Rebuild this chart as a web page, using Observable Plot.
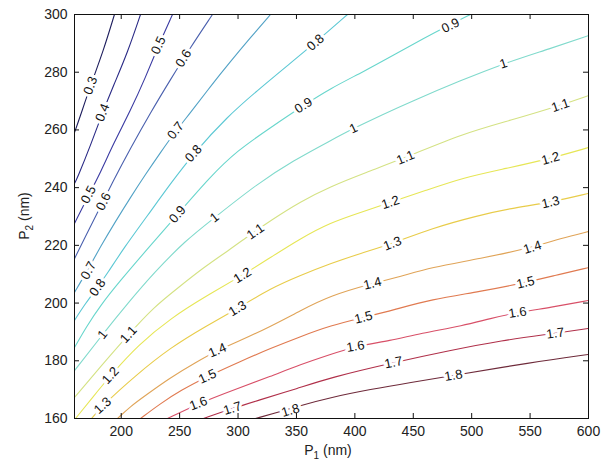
<!DOCTYPE html>
<html><head><meta charset="utf-8">
<script src="https://cdn.jsdelivr.net/npm/d3@7"></script>
<script src="https://cdn.jsdelivr.net/npm/@observablehq/plot@0.6"></script>
<style>
html,body{margin:0;padding:0;background:#fff;}
#chart{width:602px;height:472px;}
</style></head><body><div id="chart"></div>
<script>
// contour levels, their printed labels and colours
const levels = [0.3,0.4,0.5,0.6,0.7,0.8,0.9,1.0,1.1,1.2,1.3,1.4,1.5,1.6,1.7,1.8];
const levelText = ["0.3","0.4","0.5","0.6","0.7","0.8","0.9","1","1.1","1.2","1.3","1.4","1.5","1.6","1.7","1.8"];
const levelColors = ["#1e1e5e","#2a2a86","#3a3aa2","#4a60ae","#52a2c6","#5cc8d4","#68d6cc","#80dacc",
                     "#d4e284","#e6e656","#e8cc4a","#e0a458","#e07a50","#d85068","#b0304a","#6e2a3a"];
const xTicks = [200,250,300,350,400,450,500,550,600];
const yTicks = [160,180,200,220,240,260,280,300];

// contour lines: [P1 (nm), P2 (nm)]
const line03 = [[194.2,300],[184.8,287.5],[173.7,275.4],[164.3,264.0],[160,259.1]];
const line04 = [[216.5,300],[205.4,286.8],[193.4,275.4],[184.0,266.0],[173.7,254.6],[162.6,243.5],[160,241.4]];
const line05 = [[243.9,300],[231.9,289.3],[220.8,278.2],[207.9,266.7],[193.4,255.3],[182.3,245.3],[172.0,237.3],[160,227.6]];
const line06 = [[278.1,300],[259.3,288.6],[242.2,277.5],[225.1,266.0],[207.9,253.6],[192.5,241.8],[178.8,230.7],[168.6,222.4],[160,215.4]];
const line07 = [[327.8,300],[310.7,292.0],[293.5,283.7],[276.4,275.1],[259.3,266.0],[246.5,259.5],[233.6,252.2],[220.8,244.6],[207.9,236.6],[195.1,228.3],[182.3,219.6],[171.1,211.3],[160,203.7]];
const line08 = [[393.7,300],[366.3,290.3],[342.3,282.3],[316.7,273.7],[291.0,264.7],[261.9,251.8],[242.2,241.4],[222.5,230.3],[201.9,218.9],[188.2,210.3],[179.7,205.4],[169.4,199.9],[160,194.0]];
const line09 = [[499.0,300],[480.2,296.2],[458.8,291.7],[435.6,286.5],[407.4,280.2],[379.1,274.4],[356.0,268.5],[327.8,260.8],[299.5,252.9],[276.4,243.9],[248.2,230.7],[225.1,220.0],[197.7,207.1],[182.3,199.2],[170.3,191.9],[160,184.6]];
const line10 = [[600,292.7],[567.5,288.2],[527.2,283.0],[490.4,277.1],[450.2,270.2],[421.9,265.0],[398.8,260.5],[379.1,256.3],[347.5,249.4],[316.6,241.4],[279.0,229.3],[255.0,221.7],[227.6,210.3],[206.2,200.2],[184.0,189.1],[160,176.6]];
const line11 = [[600,271.9],[576.0,268.5],[533.2,263.3],[493.0,258.8],[443.3,250.4],[409.1,245.2],[379.1,240.4],[353.5,235.2],[327.8,228.6],[310.7,223.8],[291.8,218.2],[270.4,212.3],[249.0,205.4],[227.6,198.5],[206.2,189.1],[182.3,178.0],[160,167.3]];
const line12 = [[600,253.9],[567.5,250.1],[528.9,246.6],[493.0,243.5],[460.5,239.0],[430.5,234.9],[404.8,231.4],[379.1,227.9],[353.5,222.4],[327.8,215.8],[303.8,209.6],[272.1,202.3],[242.2,194.7],[214.8,185.6],[190.8,174.9],[175.4,167.3],[160.9,160]];
const line13 = [[600,238.0],[567.5,234.9],[533.2,232.8],[505.0,230.3],[464.7,225.8],[432.2,220.6],[404.8,217.2],[379.1,213.7],[353.5,209.6],[327.8,205.1],[299.5,198.1],[272.1,191.9],[242.2,184.6],[212.2,174.9],[184.0,164.5],[174.6,160]];
const line14 = [[600,224.8],[576.0,222.4],[552.0,219.3],[507.5,215.4],[464.7,212.3],[439.1,209.2],[415.1,206.8],[379.1,202.6],[353.5,197.4],[327.8,191.9],[302.1,187.0],[282.4,183.6],[263.6,179.4],[242.2,174.2],[220.8,168.0],[207.9,164.2],[196.8,160]];
const line15 = [[600,212.3],[571.7,209.6],[546.1,207.1],[507.5,204.0],[464.7,201.2],[434.8,197.8],[407.4,195.0],[379.1,192.2],[353.5,188.4],[327.8,184.3],[302.1,179.8],[273.8,174.6],[250.7,169.7],[233.6,165.2],[216.5,160]];
const line16 = [[600,200.9],[567.5,198.5],[539.2,196.7],[516.1,194.7],[493.0,192.2],[456.2,189.5],[430.5,187.0],[400.5,185.0],[379.1,182.2],[353.5,178.7],[327.8,174.6],[297.8,170.1],[266.1,165.2],[239.6,160]];
const line17 = [[600,191.2],[571.7,189.5],[524.7,187.0],[481.9,183.6],[433.1,179.4],[379.1,174.2],[350.9,170.4],[316.6,166.2],[295.2,163.5],[270.4,160]];
const line18 = [[600,182.2],[550.3,179.4],[484.4,174.9],[447.6,172.5],[413.4,170.1],[379.1,167.3],[353.5,164.5],[336.3,162.4],[314.9,160]];

// inline label anchor points: [P1, P2]
const lab03 = [[173.7,275.4]];
const lab04 = [[184.0,266.0]];
const lab05 = [[231.9,289.3],[172.0,237.6]];
const lab06 = [[253.3,284.8],[184.8,235.2]];
const lab07 = [[246.5,259.8],[172.0,211.3]];
const lab08 = [[366.3,290.3],[261.9,251.8],[179.7,205.4]];
const lab09 = [[481.9,296.2],[356.0,268.5],[248.2,230.7]];
const lab10 = [[527.2,283.0],[398.8,260.5],[279.8,229.7],[184.0,189.1]];
const lab11 = [[576.0,268.5],[443.3,250.4],[314.9,224.8],[206.2,189.1]];
const lab12 = [[567.5,250.1],[430.5,234.9],[303.8,209.6],[190.8,174.9]];
const lab13 = [[567.5,234.9],[432.2,220.6],[299.5,198.1],[184.0,164.5]];
const lab14 = [[552.0,219.3],[415.1,206.8],[282.4,183.6]];
const lab15 = [[546.1,207.1],[407.4,195.0],[273.8,174.6]];
const lab16 = [[539.2,196.7],[400.5,185.0],[266.1,165.2]];
const lab17 = [[571.7,189.5],[433.1,179.4],[295.2,163.5]];
const lab18 = [[484.4,174.9],[344.9,162.8]];

const lines = [line03,line04,line05,line06,line07,line08,line09,line10,line11,line12,line13,line14,line15,line16,line17,line18];
const labelSets = [lab03,lab04,lab05,lab06,lab07,lab08,lab09,lab10,lab11,lab12,lab13,lab14,lab15,lab16,lab17,lab18];

const W = 602, H = 472, mL = 74, mR = 14, mT = 14, mB = 54;
const fw = W - mL - mR, fh = H - mT - mB;
const kx = fw / (600 - 160), ky = fh / (300 - 160);

const lineRows = lines.flatMap((pts, i) => pts.map(([p1, p2]) => ({level: levels[i], p1, p2})));

function angleAt(pts, p) {
  let best = Infinity, ang = 0;
  const px = p[0] * kx, py = -p[1] * ky;
  for (let k = 0; k < pts.length - 1; k++) {
    const ax = pts[k][0] * kx, ay = -pts[k][1] * ky;
    const bx = pts[k+1][0] * kx, by = -pts[k+1][1] * ky;
    const dx = bx - ax, dy = by - ay, L = dx*dx + dy*dy;
    let t = ((px - ax) * dx + (py - ay) * dy) / L;
    t = Math.max(0, Math.min(1, t));
    const d = Math.hypot(ax + t*dx - px, ay + t*dy - py);
    if (d < best) { best = d; ang = Math.atan2(dy, dx) * 180 / Math.PI; }
  }
  if (ang > 90) ang -= 180;
  if (ang < -90) ang += 180;
  return ang;
}

const labelRows = labelSets.flatMap((set, i) => set.map(p => ({
  p1: p[0], p2: p[1], text: levelText[i], angle: angleAt(lines[i], p)
})));

const chart = Plot.plot({
  width: W, height: H,
  marginLeft: mL, marginRight: mR, marginTop: mT, marginBottom: mB,
  x: {domain: [160, 600], label: null},
  y: {domain: [160, 300], label: null},
  color: {type: "ordinal", domain: levels, range: levelColors},
  style: {fontFamily: "Arial, 'Liberation Sans', Helvetica, sans-serif", fontSize: "14px", background: "#fff", color: "#222"},
  marks: [
    Plot.line(lineRows, {x: "p1", y: "p2", z: "level", stroke: "level", strokeWidth: 1.1, curve: "basis", clip: true}),
    Plot.text(labelRows, {x: "p1", y: "p2", text: "text", rotate: "angle", fill: "#111", stroke: "white", strokeWidth: 6, paintOrder: "stroke", fontSize: 13}),
    Plot.frame({stroke: "#111"}),
    Plot.tickX(xTicks, {x: d => d, insetTop: fh - 5, stroke: "#111"}),
    Plot.tickX(xTicks, {x: d => d, insetBottom: fh - 5, stroke: "#111"}),
    Plot.tickY(yTicks, {y: d => d, insetRight: fw - 5, stroke: "#111"}),
    Plot.tickY(yTicks, {y: d => d, insetLeft: fw - 5, stroke: "#111"}),
    Plot.axisX(xTicks, {tickSize: 0, tickPadding: 8, label: null}),
    Plot.axisY(yTicks, {tickSize: 0, tickPadding: 7, label: null})
  ]
});

const svg = d3.select(chart);
const xl = svg.append("text")
  .attr("x", mL + fw / 2 - 3).attr("y", 455)
  .attr("text-anchor", "middle").attr("font-size", 14).attr("fill", "#222");
xl.append("tspan").text("P");
xl.append("tspan").attr("font-size", 10).attr("dy", 4).text("1");
xl.append("tspan").attr("dy", -4).text(" (nm)");

const yl = svg.append("text")
  .attr("transform", `translate(29,${mT + fh / 2}) rotate(-90)`)
  .attr("text-anchor", "middle").attr("font-size", 14).attr("fill", "#222");
yl.append("tspan").text("P");
yl.append("tspan").attr("font-size", 10).attr("dy", 4).text("2");
yl.append("tspan").attr("dy", -4).text(" (nm)");

document.getElementById("chart").appendChild(chart);
</script>
</body></html>
